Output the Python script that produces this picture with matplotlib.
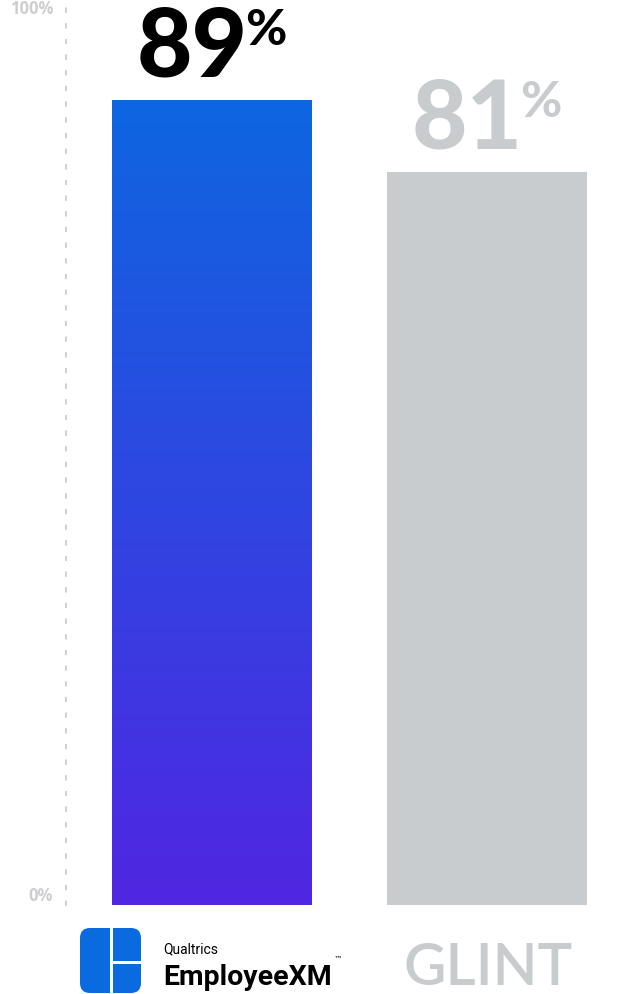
import numpy as np
import matplotlib
matplotlib.use('Agg')
import matplotlib.pyplot as plt
from matplotlib.colors import LinearSegmentedColormap
from matplotlib.patches import FancyBboxPatch, Rectangle

# data
categories = ['EmployeeXM', 'GLINT']
values = [89, 81]
value_labels = ['89', '81']
tick_values = [0, 100]
tick_labels = ['0%', '100%']

W, H = 634, 994
blue_top = '#0E66E0'
blue_bottom = '#5026E2'
gray = '#C9CCCF'
tick_gray = '#CDCED0'

fig = plt.figure(figsize=(W/100, H/100), dpi=100)
fig.patch.set_facecolor('white')

#===============================================================================
# main axes: left edge = dotted axis line, bottom = bar baseline
ax = fig.add_axes([66/W, 89/H, (W-66)/W, 905/H])
ax.set_xlim(-0.53, 1.535)
ax.set_ylim(0, 100)
for s in ['top', 'right', 'bottom']:
    ax.spines[s].set_visible(False)
ax.spines['left'].set_color('#C8C8C8')
ax.spines['left'].set_linewidth(1.2)
ax.spines['left'].set_linestyle((0, (2.2, 7.2)))
ax.set_xticks([])
ax.set_yticks([])

bars = ax.bar(range(len(values)), values, width=0.727, color=['none', gray], edgecolor='none')

# gradient fill for first bar
cmap = LinearSegmentedColormap.from_list('qx', [blue_bottom, blue_top])
b = bars[0]
grad = np.linspace(0, 1, 256).reshape(-1, 1)
im = ax.imshow(grad, cmap=cmap, origin='lower', aspect='auto',
               extent=[b.get_x(), b.get_x()+b.get_width(), 0, b.get_height()], zorder=2)
im.set_clip_path(b)
ax.set_xlim(-0.53, 1.535)
ax.set_ylim(0, 100)

# y tick labels (custom alignment)
for v, lab in zip(tick_values, tick_labels):
    ax.annotate(lab, xy=(0, v), xycoords=('axes fraction', 'data'),
                xytext=(-13, 0), textcoords='offset pixels',
                ha='right', va='bottom' if v == 0 else 'top',
                fontsize=12, fontweight='bold', family='Open Sans', color=tick_gray)

# value labels: big digits + raised percent sign
label_colors = ['black', gray]
fig.canvas.draw()
r = fig.canvas.get_renderer()
for i, (v, lab) in enumerate(zip(values, value_labels)):
    t1 = ax.annotate(lab, xy=(i, v), xytext=(0, 23), textcoords='offset pixels',
                     ha='right', va='baseline', fontsize=69, fontweight='black',
                     family='Lato', color=label_colors[i])
    t2 = ax.annotate('%', xy=(i, v), xytext=(-3, 55), textcoords='offset pixels',
                     ha='left', va='baseline', fontsize=36, fontweight='black',
                     family='Lato', color=label_colors[i])
    w1 = t1.get_window_extent(r).width
    w2 = t2.get_window_extent(r).width
    shift = (w1 - 3 + w2) / 2 - w2 + 3
    t1.set_position((shift, 23))
    t2.set_position((shift - 3, 55))

#===============================================================================
# brand logos under the bars (pixel coordinates, y down)
lax = fig.add_axes([0, 0, 1, 1], zorder=-1)
lax.set_xlim(0, W)
lax.set_ylim(H, 0)
lax.axis('off')

qblue = '#0A6BE0'
lax.add_patch(FancyBboxPatch((80, 928), 61, 65, boxstyle='round,pad=0,rounding_size=10',
                             fc=qblue, ec='none'))
lax.add_patch(Rectangle((110, 926), 3, 70, fc='white', ec='none'))
lax.add_patch(Rectangle((110, 961), 33, 3, fc='white', ec='none'))

lax.text(163, 949, 'Qualtrics', fontsize=10, family='Roboto', color='black',
         ha='left', va='center')
emp = lax.text(163, 985, categories[0], fontsize=20.5, fontweight='bold', family='Roboto',
               color='black', ha='left', va='baseline')
fig.canvas.draw()
ex = emp.get_window_extent(fig.canvas.get_renderer()).x1
lax.text(ex + 2, 962, '\u2122', fontsize=6, family='DejaVu Sans', color='black',
         ha='left', va='baseline')

lax.text(488, 985, categories[1], fontsize=42, fontweight='semibold', family='Lato',
         color=gray, ha='center', va='baseline')

fig.savefig('out.png', dpi=100, facecolor='white')
